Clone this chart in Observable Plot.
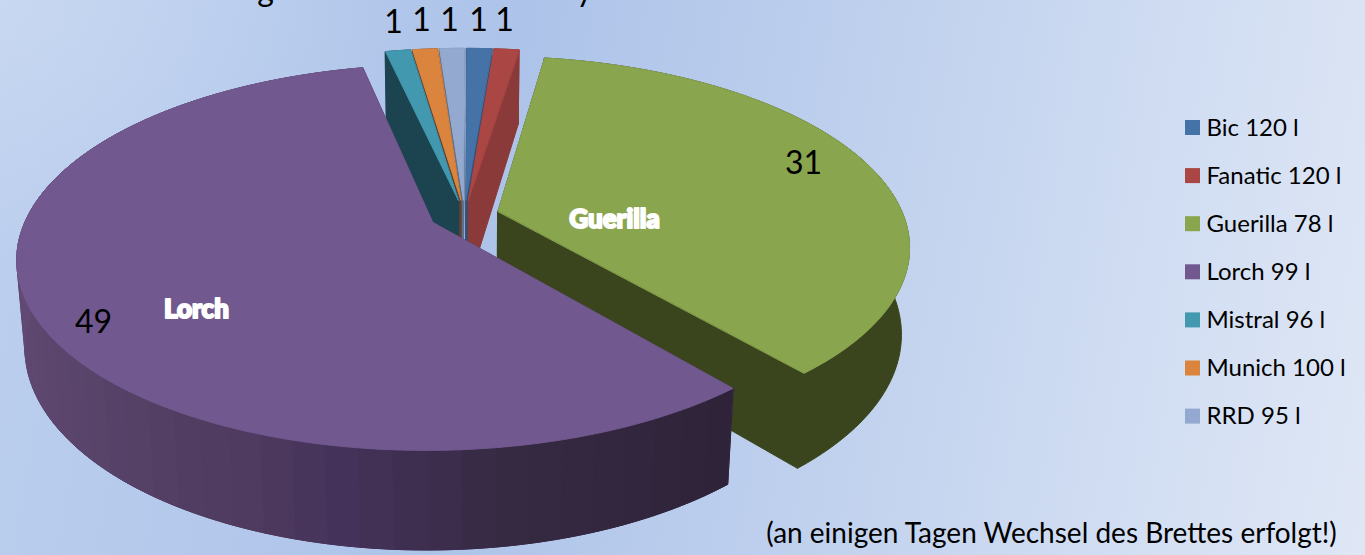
<!DOCTYPE html>
<html>
<head>
<meta charset="utf-8">
<script src="https://cdn.jsdelivr.net/npm/d3@7"></script>
<script src="https://cdn.jsdelivr.net/npm/@observablehq/plot@0.6"></script>
<style>
html,body{margin:0;padding:0;width:1365px;height:555px;overflow:hidden;}
body{background:
  radial-gradient(ellipse 400px 280px at 0 0, rgba(210,223,244,.55), rgba(210,223,244,0)),
  linear-gradient(100deg,#bccfee 0%,#adc3e9 36%,#bdcfed 58%,#cfdcf2 80%,#dfe7f5 100%);}
svg{display:block;}
[aria-label="slice names"]{filter:drop-shadow(1px 1.5px 1px rgba(40,30,50,.55));}
</style>
</head>
<body>
<script>
const brands = ["Bic 120 l","Fanatic 120 l","Guerilla 78 l","Lorch 99 l","Mistral 96 l","Munich 100 l","RRD 95 l"];
const counts = [1,1,31,49,1,1,1];
const topColors = ["#4572a7","#aa4643","#89a54e","#71588f","#4198af","#db843d","#93a9cf"];
const wallColors = ["#2f5078","#8a3a38","#3a451e","#4b3a60","#1b4450","#5e4030","#5f6f8c"];
const paintOrder = [6,5,4,0,1,2,3];
const labelX = [478,504,803,93,393,421,449];
const labelY = [20,20,163,322,22,20,20];
const nameLabels = [{t:"Guerilla",x:614,y:219},{t:"Lorch",x:196,y:309}];
const clippedTitle = [{t:"g",x:265},{t:"y",x:584}];
const caption = "(an einigen Tagen Wechsel des Brettes erfolgt!)";

// pie view parameters
const view = {cx:464, cy:215, R:405.5, b:184, p:0.18, q:0.018, e:87, phi:0.2, explode:0.086};
const FONT = "Lato, 'Open Sans', sans-serif";

function project(X,Y,Z){
  const w = 1 + view.p*Y + view.q*Z;
  return [view.cx + view.R*X/w, view.cy - (view.b*Y - view.e*Z)/w];
}
const total = d3.sum(counts);
const rad = a => (a+view.phi)*Math.PI/180;
let cum = 0;
const slices = counts.map((v,i)=>{
  const a0 = cum/total*360; cum += v; const a1 = cum/total*360;
  const mid = rad((a0+a1)/2);
  return {i,a0,a1,ox:view.explode*Math.sin(mid),oy:view.explode*Math.cos(mid)};
});
const rim = (s,a)=>[s.ox+Math.sin(rad(a)), s.oy+Math.cos(rad(a))];
const arcAngles = (s,step) => {const n=Math.max(2,Math.ceil((s.a1-s.a0)/step)); return d3.range(n+1).map(k=>s.a0+(s.a1-s.a0)*k/n);};

const wallShade = d3.scaleLinear().domain([139.8,170,190,200,236,270]).range(["#2d2238","#352a42","#45325a","#4e3a5e","#5c466e","#624c76"]).clamp(true);
const polys = [];
let pid = 0;
function addPoly(pts,color){const id=pid++; pts.forEach(([x,y])=>polys.push({id,x,y,color}));}
for(const idx of paintOrder){
  const s = slices[idx];
  const apex=[s.ox,s.oy];
  const wallQuad=(a,b,c)=>addPoly([project(...a,0),project(...b,0),project(...b,1),project(...a,1)],c);
  wallQuad(apex,rim(s,s.a0),wallColors[idx]);
  wallQuad(apex,rim(s,s.a1),wallColors[idx]);
  const fine=arcAngles(s,1);
  // whole outer wall in one piece
  addPoly([...fine.map(a=>project(...rim(s,a),0)),...fine.slice().reverse().map(a=>project(...rim(s,a),1))],wallColors[idx]);
  if(idx===3){
    const arc=arcAngles(s,4);
    for(let k=0;k<arc.length-1;k++){
      const sub=d3.range(0,5).map(j=>arc[k]+(arc[k+1]-arc[k])*j/4);
      addPoly([...sub.map(a=>project(...rim(s,a),0)),...sub.slice().reverse().map(a=>project(...rim(s,a),1))],wallShade((arc[k]+arc[k+1])/2));
    }
  }
  addPoly([project(...apex,0),...fine.map(a=>project(...rim(s,a),0))],topColors[idx]);
}
const legendRows = brands.map((name,i)=>({name,color:topColors[i],row:127.5+i*48.1}));
const valueLabels = counts.map((v,i)=>({v:String(v),x:labelX[i],y:labelY[i]}));

const chart = Plot.plot({
  width:1365,height:555,margin:0,
  x:{domain:[0,1365],range:[0,1365],axis:null},
  y:{domain:[0,555],range:[0,555],axis:null},
  color:{type:"identity"},
  style:{background:"transparent",overflow:"hidden"},
  marks:[
    Plot.line(polys,{x:"x",y:"y",z:"id",fill:"color",stroke:"color",strokeWidth:1,curve:"linear-closed"}),
    Plot.text(valueLabels,{x:"x",y:"y",text:"v",fontSize:32,fontFamily:FONT,fill:"#000",ariaLabel:"values"}),
    Plot.text(nameLabels,{x:"x",y:"y",text:"t",fontSize:26,fontWeight:900,fontFamily:FONT,fill:"#fff",stroke:"#fff",strokeWidth:2,ariaLabel:"slice names"}),
    Plot.rect(legendRows,{x1:()=>1185,x2:()=>1200,y1:d=>d.row-7.5,y2:d=>d.row+7.5,fill:"color"}),
    Plot.text(legendRows,{x:()=>1206,y:"row",text:"name",textAnchor:"start",fontSize:24,fontFamily:FONT,fill:"#000"}),
    Plot.text([caption],{x:()=>1051,y:()=>534,text:d=>d,fontSize:28,fontFamily:FONT,fill:"#000"}),
    Plot.text(clippedTitle,{x:"x",y:()=>-10,text:"t",fontSize:32,fontFamily:FONT,fill:"#000"})
  ]
});
document.body.appendChild(chart);
</script>
</body>
</html>
